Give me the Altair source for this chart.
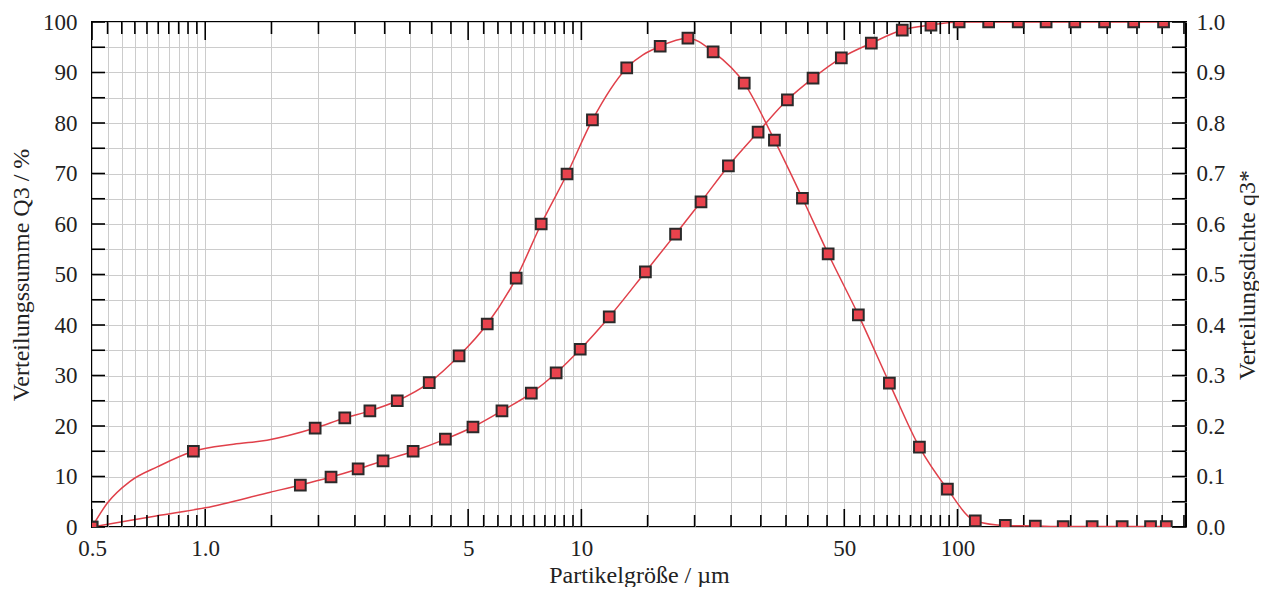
import altair as alt
import pandas as pd

# ---------------- data ----------------
# density q3* (right axis), marker points
dens_x = [0.5, 0.93, 1.96, 2.35, 2.74, 3.24, 3.94, 4.73, 5.62, 6.71, 7.82, 9.16,
          10.7, 13.2, 16.2, 19.2, 22.4, 27.1, 32.6, 38.7, 45.3, 54.5, 65.9, 79.2,
          94.0, 111.5, 134, 161, 191, 228, 274, 326, 359]
dens_y = [0.0, 0.150, 0.196, 0.216, 0.230, 0.250, 0.286, 0.339, 0.402, 0.493, 0.600, 0.699,
          0.806, 0.909, 0.952, 0.968, 0.941, 0.879, 0.766, 0.651, 0.541, 0.420, 0.285, 0.158,
          0.075, 0.012, 0.003, 0.002, 0.001, 0.001, 0.001, 0.001, 0.001]
# density curve points without marker
dens_line_x = [0.55, 0.63, 0.75, 1.19, 1.46]
dens_line_y = [0.048, 0.090, 0.120, 0.164, 0.172]

# cumulative Q3 (left axis), marker points
cum_x = [0.5, 1.79, 2.16, 2.55, 2.97, 3.57, 4.35, 5.15, 6.15, 7.36, 8.57, 9.93,
         11.86, 14.8, 17.8, 20.8, 24.6, 29.5, 35.3, 41.3, 49.1, 59.0, 71.3, 85.0,
         101, 121, 145, 172, 205, 246, 294, 353]
cum_y = [0.0, 8.3, 9.9, 11.5, 13.1, 15.0, 17.4, 19.8, 23.0, 26.5, 30.5, 35.2,
         41.6, 50.5, 58.0, 64.4, 71.5, 78.2, 84.6, 88.9, 92.9, 95.8, 98.4, 99.4,
         100, 100, 100, 100, 100, 100, 100, 100]
# cumulative curve points without marker
cum_line_x = [0.64, 0.74, 1.0, 1.49]
cum_line_y = [1.4, 2.2, 3.8, 6.9]

# axis ticks
x_major = [0.5, 1, 5, 10, 50, 100]
x_minor = [0.55, 0.6, 0.65, 0.7, 0.75, 0.8, 0.85, 0.9, 0.95,
           1.5, 2, 2.5, 3, 3.5, 4, 4.5, 5.5, 6, 6.5, 7, 7.5, 8, 8.5, 9, 9.5,
           15, 20, 25, 30, 35, 40, 45, 55, 60, 65, 70, 75, 80, 85, 90, 95,
           150, 200, 250, 300, 350, 400]
y_ticks = [0, 5, 10, 15, 20, 25, 30, 35, 40, 45, 50, 55, 60, 65, 70, 75, 80, 85, 90, 95, 100]
y_right_labels = [0.0, 0.1, 0.2, 0.3, 0.4, 0.5, 0.6, 0.7, 0.8, 0.9, 1.0]

# ---------------- tables ----------------
cum_pts = pd.DataFrame({"x": cum_x, "y": cum_y})
cum_line = pd.concat([cum_pts, pd.DataFrame({"x": cum_line_x, "y": cum_line_y})]).sort_values("x")
dens_pts = pd.DataFrame({"x": dens_x, "y": dens_y})
dens_line = pd.concat([dens_pts, pd.DataFrame({"x": dens_line_x, "y": dens_line_y})]).sort_values("x")
xmaj = pd.DataFrame({"x": x_major})
xmin = pd.DataFrame({"x": x_minor})
yt = pd.DataFrame({"y": y_ticks})

W, H = 1094, 505
RED_LINE = "#e0404a"
RED_FILL = "#e8434d"
FONT = "Liberation Serif"

xs = alt.Scale(type="log", domain=[0.5, 405], nice=False)
yls = alt.Scale(domain=[0, 100], nice=False, zero=True)
yrs = alt.Scale(domain=[0, 1], nice=False, zero=True)

label_expr_x = ("datum.value == 0.5 ? '0.5' : datum.value == 1 ? '1.0' : "
                "(datum.value == 5 || datum.value == 10 || datum.value == 50 || datum.value == 100) "
                "? format(datum.value, 'd') : ''")

x_axis = alt.Axis(values=x_major + x_minor, labelExpr=label_expr_x, grid=True,
                  title="Partikelgröße / µm", labelOverlap=False, labelFlush=False,
                  labelPadding=10, titlePadding=3)
y_axis = alt.Axis(values=y_ticks, labelExpr="datum.value % 10 == 0 ? datum.label : ''",
                  grid=True, title="Verteilungssumme Q3 / %", labelOverlap=False,
                  labelFlush=False, labelPadding=15, titlePadding=9)
yr_axis = alt.Axis(values=y_right_labels, format=".1f", grid=False, orient="right",
                   title="Verteilungsdichte q3*", labelOverlap=False, labelFlush=False,
                   labelPadding=10, titlePadding=11, titleAngle=270, titleBaseline="top")

X = alt.X("x:Q", scale=xs, axis=x_axis)
YL = alt.Y("y:Q", scale=yls, axis=y_axis)
YR = alt.Y("y:Q", scale=yrs, axis=yr_axis)

cum_lineL = alt.Chart(cum_line).mark_line(interpolate="monotone", color=RED_LINE,
                                          strokeWidth=1.5, clip=True).encode(x=X, y=YL)
cum_ptsL = alt.Chart(cum_pts).mark_square(size=115, color=RED_FILL, stroke="#2a2a2a",
                                          strokeWidth=2, opacity=1, clip=True).encode(x=X, y=YL)

# inward tick marks
def xticks(df, y0, y1):
    return alt.Chart(df).mark_rule(color="black", strokeWidth=1.6).encode(
        x=X, y=alt.value(y0), y2=alt.value(y1))

tick_layers = [
    xticks(xmaj, H, H - 18), xticks(xmin, H, H - 12),
    xticks(xmaj, 0, 18), xticks(xmin, 0, 12),
    alt.Chart(yt).mark_rule(color="black", strokeWidth=1.6).encode(
        y=YL, x=alt.value(0), x2=alt.value(13)),
    alt.Chart(yt).mark_rule(color="black", strokeWidth=1.6).encode(
        y=YL, x=alt.value(W - 14), x2=alt.value(W)),
]

left = alt.layer(cum_lineL, *tick_layers, cum_ptsL)

dens_lineR = alt.Chart(dens_line).mark_line(interpolate="monotone", color=RED_LINE,
                                            strokeWidth=1.5, clip=True).encode(x=X, y=YR)
dens_ptsR = alt.Chart(dens_pts).mark_square(size=115, color=RED_FILL, stroke="#2a2a2a",
                                            strokeWidth=2, opacity=1, clip=True).encode(x=X, y=YR)
right = alt.layer(dens_lineR, dens_ptsR)

chart = alt.layer(left, right).resolve_scale(y="independent").properties(
    width=W, height=H,
    padding={"left": 84, "top": 14, "right": 73, "bottom": 60},
    autosize=alt.AutoSizeParams(type="none"),
    background="white",
).configure_axis(
    labelFont=FONT, titleFont=FONT, labelFontSize=23, titleFontSize=24,
    titleFontWeight="normal", labelColor="#222222", titleColor="#222222",
    tickSize=0, domain=False, gridColor="#cccccc", gridWidth=1,
).configure_view(stroke="black", strokeWidth=2)

chart.save("out.html", embed_options={"renderer": "svg", "actions": False})
